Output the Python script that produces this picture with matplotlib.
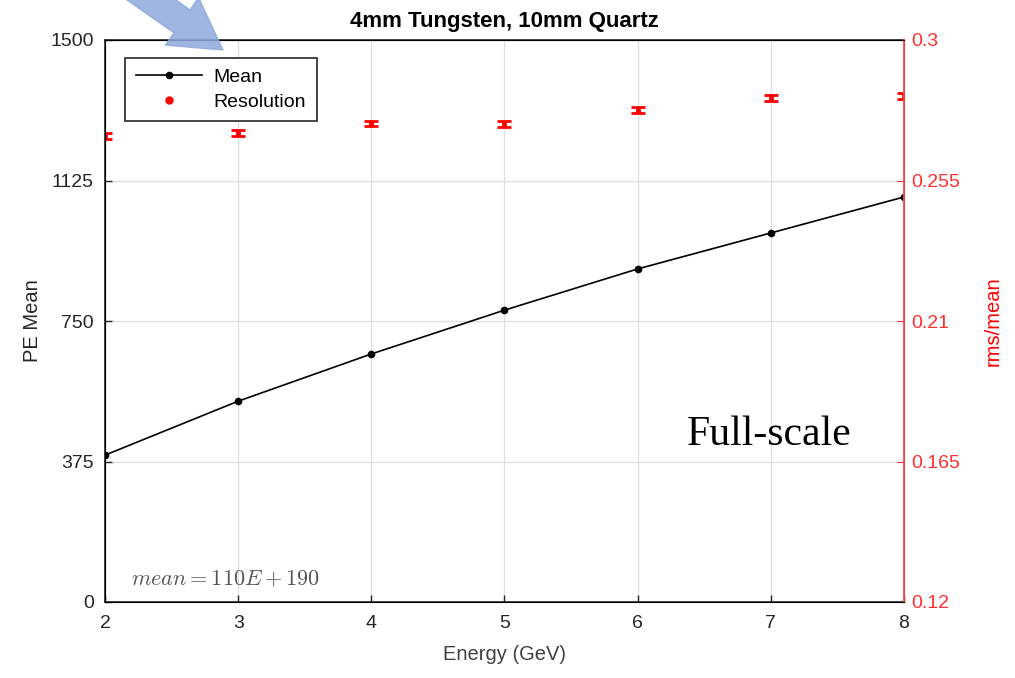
import numpy as np
import matplotlib.pyplot as plt
from matplotlib.patches import FancyArrow
from matplotlib.transforms import IdentityTransform

plt.rcParams['font.family'] = ['Liberation Sans', 'DejaVu Sans']
plt.rcParams['mathtext.fontset'] = 'cm'

energy = [2, 3, 4, 5, 6, 7, 8]
pe_mean = [392, 536, 662, 779, 889, 985, 1081]
resolution = [0.2693, 0.2702, 0.2734, 0.2731, 0.2776, 0.2814, 0.2821]
res_err = [0.0010, 0.0010, 0.0008, 0.0009, 0.0010, 0.0009, 0.0009]

W, H = 1015, 678
fig = plt.figure(figsize=(W / 100, H / 100), dpi=100)
ax = fig.add_axes([105 / W, 1 - 602 / H, 799 / W, 562 / H])
ax2 = ax.twinx()

ax.plot(energy, pe_mean, color='black', marker='o', markersize=4.5, lw=1.2, label='Mean')
ax2.errorbar(energy, resolution, yerr=res_err, fmt='none', ecolor='red',
             elinewidth=3.5, capsize=5, capthick=2)
ax2.plot([], [], 'o', color='red', markersize=5, label='Resolution')

ax.set_xlim(2, 8)
ax.set_ylim(0, 1500)
ax.set_yticks([0, 375, 750, 1125, 1500])
ax.set_xticks(energy)
ax2.set_ylim(0.12, 0.3)
ax2.set_yticks([0.12, 0.165, 0.21, 0.255, 0.3])
ax2.set_yticklabels(['0.12', '0.165', '0.21', '0.255', '0.3'])

ax.grid(True, color='#e0e0e0', lw=1)
ax.tick_params(direction='in', labelsize=14, colors='#262626', length=5, width=1)
ax.tick_params(axis='y', pad=8)
ax.tick_params(axis='x', pad=9)
ax2.tick_params(direction='in', labelsize=14, colors='#ff3030', length=5, pad=5)
ax2.spines['right'].set_color('#ff5050')
ax2.spines['right'].set_linewidth(1.3)
for s in ['top', 'left', 'bottom']:
    ax.spines[s].set_color('#262626')
    ax.spines[s].set_linewidth(1.2)

ax.set_xlabel('Energy (GeV)', fontsize=14.5, color='#404040', labelpad=10)
ax.set_ylabel('PE Mean', fontsize=14.5, color='#262626', labelpad=6)
ax2.set_ylabel('rms/mean', fontsize=14.5, color='red', labelpad=17)
ax.set_title('4mm Tungsten, 10mm Quartz', fontsize=16, fontweight='bold', pad=9)

h1, l1 = ax.get_legend_handles_labels()
h2, l2 = ax2.get_legend_handles_labels()
leg = ax2.legend(h1 + h2, l1 + l2, loc='upper left', bbox_to_anchor=(0.025, 0.968),
                 fontsize=14, fancybox=False, edgecolor='#262626', framealpha=1,
                 handlelength=3.4, borderpad=0.55, labelspacing=0.35,
                 handletextpad=0.6, borderaxespad=0)
leg.get_frame().set_linewidth(1.2)

ax.text(0.033, 0.03, r'$mean = 110E + 190$', transform=ax.transAxes,
        fontsize=16, color='#555555')
fig.text(687 / W, 1 - 435 / H, 'Full-scale', fontsize=30,
         family=['Liberation Serif', 'DejaVu Serif'], va='center')

# blue pointer arrow, drawn in pixel coordinates
arrow = FancyArrow(130, H + 15, 93, -65, width=28, head_width=58, head_length=50,
                   length_includes_head=True, color='#8eaadb', alpha=0.85,
                   transform=IdentityTransform(), clip_on=False)
fig.add_artist(arrow)

fig.savefig('out.png', dpi=100)
